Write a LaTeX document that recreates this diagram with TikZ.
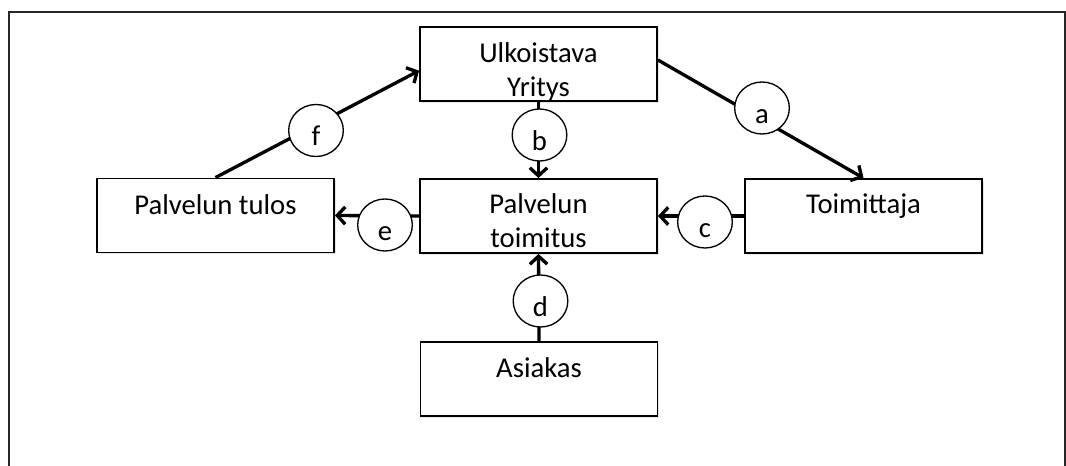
\documentclass[tikz,border=0pt]{standalone}
\usepackage{fontspec}
\setmainfont{Carlito}
\usetikzlibrary{arrows.meta,shapes.geometric,shadows}
\begin{document}
\begin{tikzpicture}[x=0.75pt,y=-0.75pt,
  box/.style={draw, line width=1.4pt, fill=white, minimum width=177.75pt, minimum height=55.5pt, inner sep=0pt,
    drop shadow={opacity=0.2, shadow xshift=1.2pt, shadow yshift=-1.2pt}},
  txt/.style={font=\fontsize{21.5}{25.5}\selectfont, align=center, anchor=base, inner sep=0pt},
  tag/.style={draw, ellipse, line width=1pt, fill=white, minimum width=41pt, minimum height=39pt, inner sep=0pt,
    text height=23pt, text depth=0pt, font=\fontsize{21.5}{25}\selectfont},
  conn/.style={line width=2.5pt, -{Straight Barb[length=6pt,width=13pt]}}
]
\useasboundingbox (0,0) rectangle (1066,466);
\fill[white] (0,0) rectangle (1066,466);
\draw[line width=1.5pt, black!85] (9,470) -- (9,12) -- (1065,12) -- (1065,470);

% boxes
\node[box] (ulk) at (538.5,64) {};
\node[box] (toimitus) at (538.5,216) {};
\node[box] (tulos) at (215.5,215.5) {};
\node[box] (toimittaja) at (863.5,216) {};
\node[box] (asiakas) at (539,379) {};

% texts (two-line nodes placed by their last baseline)
\node[txt] (ulk-t) at (538.5,97) {Ulkoistava\\Yritys};
\node[txt] (toimitus-t) at (538.5,248) {Palvelun\\toimitus};
\node[txt] (tulos-t) at (215.5,215) {Palvelun tulos};
\node[txt] (toimittaja-t) at (863.5,214) {Toimittaja};
\node[txt] (asiakas-t) at (539,377) {Asiakas};

% connectors
\draw[conn] ([yshift=3pt]ulk.east) -- (toimittaja.north);
\draw[conn] (ulk.south) -- (toimitus.north);
\draw[conn] (toimittaja.west) -- (toimitus.east);
\draw[conn] (asiakas.north) -- (toimitus.south);
\draw[conn] (toimitus.west) -- (tulos.east);
\draw[conn] (tulos.north) -- ([yshift=-5pt]ulk.west);

% tags
\node[tag] (ta) at (762,108) {a};
\node[tag] (tb) at (539.5,135) {b};
\node[tag] (tc) at (705,222) {c};
\node[tag] (td) at (540.5,301) {d};
\node[tag] (te) at (385,225) {e};
\node[tag] (tf) at (316,130.5) {f};
\end{tikzpicture}
\end{document}
